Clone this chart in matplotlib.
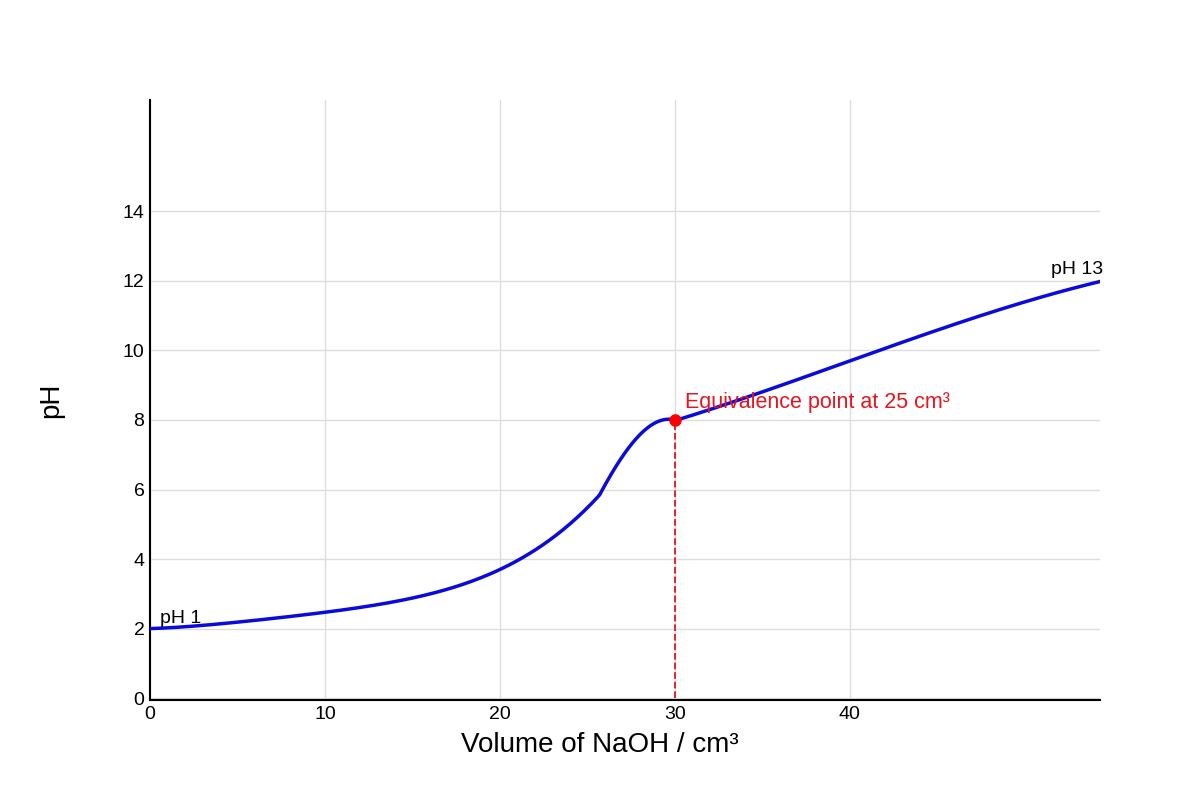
import matplotlib
matplotlib.use("Agg")
import matplotlib.pyplot as plt
import numpy as np

plt.rcParams['font.family'] = ['Liberation Sans', 'DejaVu Sans']

vol = [0, 5, 10, 15, 20, 23, 25.7, 27, 28.5, 30, 35, 40, 45, 50, 54.3]
ph = [2.0, 2.2, 2.45, 2.9, 3.7, 4.6, 5.85, 6.95, 7.8, 8.0, 8.75, 9.75, 10.6, 11.35, 12.0]
eq_x, eq_y = 30, 8.0
xticks = [0, 10, 20, 30, 40]
yticks = [0, 2, 4, 6, 8, 10, 12, 14]

fig = plt.figure(figsize=(12, 8), dpi=100)
ax = fig.add_axes([0.125, 0.125, 0.7917, 0.75])

xs1 = np.linspace(0, 25.7, 200)
c1 = np.polyfit(vol[:7], ph[:7], 4)
ys1 = np.polyval(c1, xs1)
xs2 = np.linspace(25.7, 30, 80)
c2 = np.polyfit(vol[6:10], ph[6:10], 3)
ys2 = np.polyval(c2, xs2)
xs3 = np.linspace(30, 54.3, 200)
c3 = np.polyfit(vol[9:], ph[9:], 3)
ys3 = np.polyval(c3, xs3)
ax.plot(np.concatenate([xs1, xs2, xs3]), np.concatenate([ys1, ys2, ys3]),
        color='#0a0adc', lw=2.5, zorder=3)

ax.plot([eq_x, eq_x], [0, eq_y], color='#e8141e', ls='--', lw=1.3, zorder=2)
ax.plot(eq_x, eq_y, 'o', color='#ff0000', ms=8, zorder=4)
ax.text(eq_x + 0.6, eq_y + 0.35, 'Equivalence point at 25 cm³', color='#e8141e', fontsize=15.5)
ax.text(0.6, 2.15, 'pH 1', fontsize=14)
ax.text(54.5, 12.2, 'pH 13', fontsize=14, ha='right')

ax.set_xlim(0, 54.3)
ax.set_ylim(-0.05, 17.2)
ax.set_xticks(xticks)
ax.set_yticks(yticks)
ax.tick_params(length=0, labelsize=14, pad=4)
ax.grid(True, color='#dddddd', lw=1)
ax.set_axisbelow(True)
for s in ['top', 'right']:
    ax.spines[s].set_visible(False)
ax.spines['left'].set_linewidth(1.5)
ax.spines['bottom'].set_linewidth(1.5)
fig.text(0.5, 0.06, 'Volume of NaOH / cm³', fontsize=20, ha='center')
fig.text(0.043, 0.5, 'pH', fontsize=20, rotation=90, va='center', ha='center')

fig.savefig('out.png', dpi=100)
